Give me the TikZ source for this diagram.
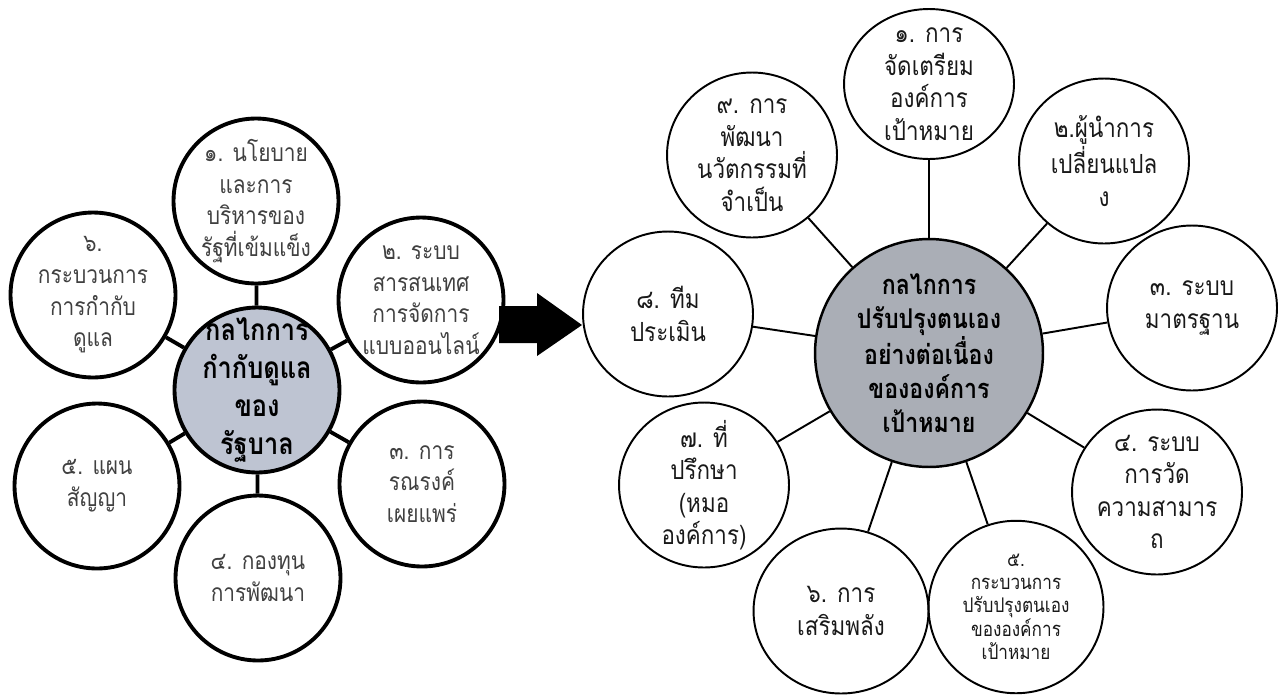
\documentclass[tikz,border=0pt]{standalone}
\usepackage{fontspec}
\newfontfamily\thaifont[Script=Thai,FakeStretch=0.85]{Loma}
\usetikzlibrary{shapes.geometric}
\definecolor{leftgray}{RGB}{190,196,210}
\definecolor{rightgray}{RGB}{170,174,182}
\tikzset{
  leftsat/.style={circle, draw, line width=2.2pt, minimum size=3.3cm, inner sep=-8pt, align=center, text=black!75, font=\thaifont\fontsize{14}{18}\selectfont},
  leftmain/.style={leftsat, fill=leftgray, text=black, font=\thaifont\bfseries\fontsize{17}{21.5}\selectfont},
  rightsat/.style={ellipse, draw, line width=1.1pt, minimum width=3.4cm, minimum height=3.3cm, inner sep=-8pt, align=center, text=black!90, font=\thaifont\fontsize{15}{18.5}\selectfont},
  rightmain/.style={rightsat, fill=rightgray, line width=1.4pt, minimum width=4.56cm, minimum height=4.56cm, text=black, font=\thaifont\bfseries\fontsize{15.5}{19.3}\selectfont},
  leftlink/.style={line width=2.2pt},
  rightlink/.style={line width=1.1pt}
}
\begin{document}
\begin{tikzpicture}[x=0.02cm,y=-0.02cm]
\useasboundingbox (0,0) rectangle (1283,697);
\node[leftmain] (gov) at (257,390) {กลไกการ\\กำกับดูแล\\ของ\\รัฐบาล};
\node[leftsat] (policy) at (256,201) {๑. นโยบาย\\และการ\\บริหารของ\\รัฐที่เข้มแข็ง};
\node[leftsat] (infosys) at (421,300) {๒. ระบบ\\สารสนเทศ\\การจัดการ\\แบบออนไลน์};
\node[leftsat] (campaign) at (422,484) {๓. การ\\รณรงค์\\เผยแพร่};
\node[leftsat] (fund) at (258,578) {๔. กองทุน\\การพัฒนา};
\node[leftsat] (contract) at (97,486) {๕. แผน\\สัญญา};
\node[leftsat] (oversight) at (93,295) {๖.\\กระบวนการ\\การกำกับ\\ดูแล};
\draw[leftlink] (gov) -- (policy);
\draw[leftlink] (gov) -- (infosys);
\draw[leftlink] (gov) -- (campaign);
\draw[leftlink] (gov) -- (fund);
\draw[leftlink] (gov) -- (contract);
\draw[leftlink] (gov) -- (oversight);
\fill (499,306) -- (537,306) -- (537,293) -- (582,325) -- (537,356) -- (537,343) -- (499,343) -- cycle;
\node[rightmain] (selfimp) at (929,353) {กลไกการ\\ปรับปรุงตนเอง\\อย่างต่อเนื่อง\\ขององค์การ\\เป้าหมาย};
\node[rightsat, minimum height=3.0cm] (prep) at (929,84) {๑. การ\\จัดเตรียม\\องค์การ\\เป้าหมาย};
\node[rightsat] (leader) at (1104,161) {๒.ผู้นำการ\\เปลี่ยนแปล\\ง};
\node[rightsat] (standard) at (1192,308) {๓. ระบบ\\มาตรฐาน};
\node[rightsat] (measure) at (1157,492) {๔. ระบบ\\การวัด\\ความสามาร\\ถ};
\node[rightsat, minimum width=3.5cm, minimum height=3.45cm, font=\thaifont\fontsize{11.5}{13}\selectfont] (process) at (1016,607) {๕.\\กระบวนการ\\ปรับปรุงตนเอง\\ขององค์การ\\เป้าหมาย};
\node[rightsat, minimum width=3.5cm] (empower) at (841,611) {๖. การ\\เสริมพลัง};
\node[rightsat] (advisor) at (704,485) {๗. ที่\\ปรึกษา\\(หมอ\\องค์การ)};
\node[rightsat] (evalteam) at (668,314) {๘. ทีม\\ประเมิน};
\node[rightsat] (innovate) at (752,155) {๙. การ\\พัฒนา\\นวัตกรรมที่\\จำเป็น};
\draw[rightlink] (selfimp) -- (prep);
\draw[rightlink] (selfimp) -- (leader);
\draw[rightlink] (selfimp) -- (standard);
\draw[rightlink] (selfimp) -- (measure);
\draw[rightlink] (selfimp) -- (process);
\draw[rightlink] (selfimp) -- (empower);
\draw[rightlink] (selfimp) -- (advisor);
\draw[rightlink] (selfimp) -- (evalteam);
\draw[rightlink] (selfimp) -- (innovate);
\end{tikzpicture}
\end{document}
